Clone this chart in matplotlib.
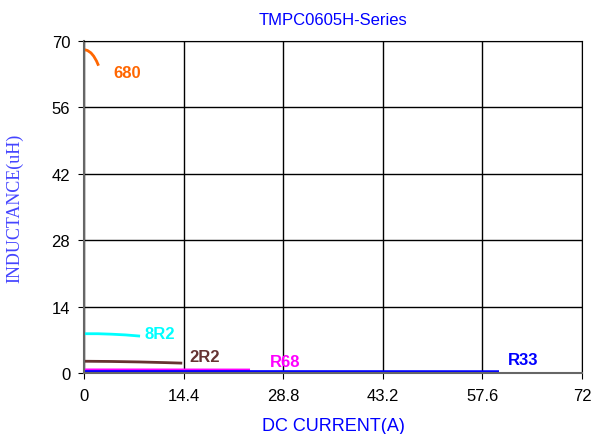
import matplotlib.pyplot as plt

# Inductance vs DC current curves
i_680 = [0, 0.5, 1.0, 1.4, 1.8, 2.1]
l_680 = [68.2, 68.0, 67.5, 66.8, 65.8, 64.8]
i_8r2 = [0, 2, 4, 6, 8.1]
l_8r2 = [8.3, 8.3, 8.2, 8.05, 7.8]
i_2r2 = [0, 4, 8, 12, 14.2]
l_2r2 = [2.5, 2.45, 2.35, 2.2, 2.1]
i_r68 = [0, 8, 16, 24]
l_r68 = [0.68, 0.68, 0.67, 0.66]
i_r33 = [0, 20, 40, 60]
l_r33 = [0.33, 0.33, 0.32, 0.31]

series = [
    ("680", i_680, l_680, "#ff6600", (4.3, 63.3)),
    ("8R2", i_8r2, l_8r2, "#00ffff", (8.7, 8.4)),
    ("2R2", i_2r2, l_2r2, "#663333", (15.2, 3.6)),
    ("R68", i_r68, l_r68, "#ff00ff", (26.9, 2.5)),
    ("R33", i_r33, l_r33, "#0000ff", (61.3, 2.9)),
]

xticks = [0, 14.4, 28.8, 43.2, 57.6, 72]
xticklabels = ["0", "14.4", "28.8", "43.2", "57.6", "72"]
yticks = [0, 14, 28, 42, 56, 70]

plt.rcParams['font.family'] = ['Liberation Sans', 'DejaVu Sans']

fig = plt.figure(figsize=(5.96, 4.35), dpi=100)
ax = fig.add_axes([0.141, 0.140, 0.8355, 0.7634])

for name, x, y, color, (tx, ty) in series:
    ax.plot(x, y, color=color, linewidth=2, solid_capstyle='butt')
    ax.text(tx, ty, name, color=color, fontsize=12, fontweight='bold',
            ha='left', va='center')

ax.set_xlim(0, 72)
ax.set_ylim(0, 70)
ax.set_xticks(xticks)
ax.set_xticklabels(xticklabels)
ax.set_yticks(yticks)
ax.tick_params(labelsize=12, colors='black', length=4, direction='out')
ax.tick_params(axis='x', pad=7)
ax.tick_params(axis='y', pad=6)
ax.grid(True, color='black', linewidth=1)
ax.set_axisbelow(True)
for s in ['top', 'right']:
    ax.spines[s].set_color('black')
for s in ['left', 'bottom']:
    ax.spines[s].set_color('#666666')
    ax.spines[s].set_linewidth(1.5)

ax.set_title("TMPC0605H-Series", color='#0000ff', fontsize=12, pad=12)
ax.set_xlabel("DC CURRENT(A)", color='#0000ff', fontsize=13, labelpad=10)
ax.set_ylabel("INDUCTANCE(uH)", color='#4444ff', fontsize=13,
              family=['Liberation Serif', 'DejaVu Serif'], labelpad=20)

fig.savefig("out.png", dpi=100)
